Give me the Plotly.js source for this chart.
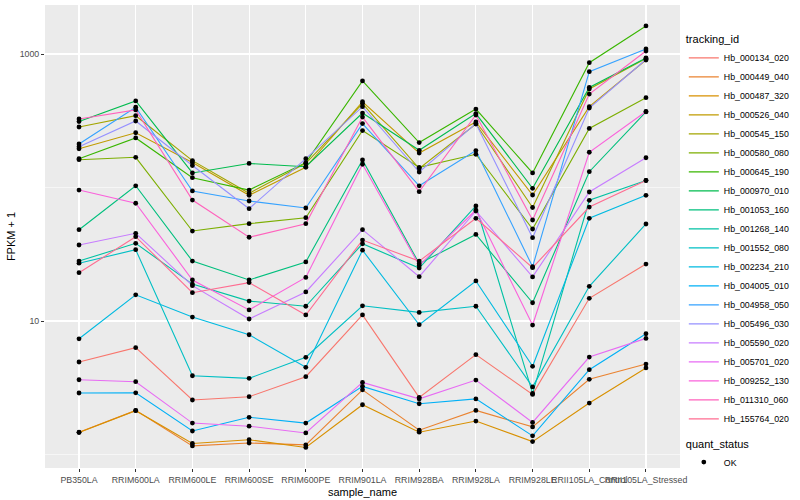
<!DOCTYPE html>
<html>
<head>
<meta charset="utf-8">
<script src="https://cdn.plot.ly/plotly-3.0.1.min.js"></script>
<style>html,body{margin:0;padding:0;background:#fff;}#chart{width:800px;height:500px;}</style>
</head>
<body>
<div id="chart"></div>
<script>
// categories (x axis)
const samples = ["PB350LA","RRIM600LA","RRIM600LE","RRIM600SE","RRIM600PE","RRIM901LA","RRIM928BA","RRIM928LA","RRIM928LE","RRII105LA_Control","RRII105LA_Stressed"];

// tracking ids (legend order)
const trackingIds = ["Hb_000134_020","Hb_000449_040","Hb_000487_320","Hb_000526_040","Hb_000545_150","Hb_000580_080","Hb_000645_190","Hb_000970_010","Hb_001053_160","Hb_001268_140","Hb_001552_080","Hb_002234_210","Hb_004005_010","Hb_004958_050","Hb_005496_030","Hb_005590_020","Hb_005701_020","Hb_009252_130","Hb_011310_060","Hb_155764_020"];

// FPKM + 1 values per tracking id, one per sample
const Hb_000134_020 = [4.93, 6.31, 2.56, 2.71, 3.83, 11.1, 2.68, 5.60, 2.82, 14.8, 26.7];
const Hb_000449_040 = [1.47, 2.14, 1.16, 1.22, 1.18, 3.05, 1.52, 2.14, 1.61, 3.66, 4.76];
const Hb_000487_320 = [1.46, 2.13, 1.21, 1.29, 1.13, 2.36, 1.47, 1.78, 1.25, 2.43, 4.45];
const Hb_000526_040 = [195, 257, 154, 87.4, 141.6, 439, 181, 310, 87.9, 403, 902];
const Hb_000545_150 = [284, 345, 159, 90.5, 151.8, 425, 138.8, 299, 70.8, 547, 925];
const Hb_000580_080 = [161.5, 168.3, 47.2, 53.6, 59.4, 267, 141.6, 177.4, 48.9, 277, 471];
const Hb_000645_190 = [164.4, 235, 118.4, 95.7, 153.5, 628, 217, 387, 128.5, 861, 1622];
const Hb_000970_010 = [312, 445, 128.5, 151.4, 143.2, 361, 190, 358, 98.6, 561, 933];
const Hb_001053_160 = [48.3, 103, 28.1, 20.3, 27.7, 160.7, 26.9, 44.5, 13.7, 131.3, 368];
const Hb_001268_140 = [28.1, 38.2, 18.9, 14.1, 12.9, 37.9, 24.9, 72.7, 2.87, 80.2, 112.8];
const Hb_001552_080 = [27.1, 34.2, 3.89, 3.72, 5.35, 13.0, 11.6, 12.9, 3.21, 18.2, 53.3];
const Hb_002234_210 = [7.36, 15.7, 10.7, 7.89, 4.50, 33.9, 9.38, 19.95, 4.58, 58.8, 87.4];
const Hb_004005_010 = [2.89, 2.90, 1.50, 1.90, 1.72, 3.24, 2.40, 2.61, 1.38, 4.32, 8.03];
const Hb_004958_050 = [212, 399, 94.2, 79.2, 70.2, 301, 103, 189, 25.5, 737, 1090];
const Hb_005496_030 = [202, 315, 146.2, 69.4, 164.4, 403, 130.6, 301, 42.1, 394, 910];
const Hb_005590_020 = [37.1, 45.4, 18.4, 10.35, 16.5, 48.3, 21.5, 66.7, 21.4, 92.5, 167];
const Hb_005701_020 = [3.63, 3.51, 1.72, 1.63, 1.45, 3.47, 2.61, 3.61, 1.74, 5.37, 7.41];
const Hb_009252_130 = [95.7, 76.2, 20.3, 12.1, 21.2, 149.3, 26.1, 67.8, 9.33, 183.6, 371];
const Hb_011310_060 = [326, 381, 80.5, 42.4, 53.6, 337, 93.1, 349, 57.1, 501, 1052];
const Hb_155764_020 = [23.0, 42.8, 16.3, 19.4, 11.1, 40.4, 28.1, 58.8, 25.1, 71.4, 112.8];

const seriesValues = [Hb_000134_020, Hb_000449_040, Hb_000487_320, Hb_000526_040, Hb_000545_150, Hb_000580_080, Hb_000645_190, Hb_000970_010, Hb_001053_160, Hb_001268_140, Hb_001552_080, Hb_002234_210, Hb_004005_010, Hb_004958_050, Hb_005496_030, Hb_005590_020, Hb_005701_020, Hb_009252_130, Hb_011310_060, Hb_155764_020];

const quantStatus = ["OK"];

// ggplot2 default hue palette for 20 groups
const colors = ["#F8766D","#EA8331","#D89000","#C09B00","#A3A500","#7CAE00","#39B600","#00BB4E","#00BF7D","#00C1A3","#00BFC4","#00BAE0","#00B0F6","#35A2FF","#9590FF","#C77CFF","#E76BF3","#FA62DB","#FF62BC","#FF6C91"];

const font = "Liberation Sans, Arial, Helvetica, sans-serif";

const traces = trackingIds.map((id, i) => ({
  type: "scatter",
  mode: "lines",
  x: samples,
  y: seriesValues[i],
  name: id,
  line: {color: colors[i], width: 1.1},
  legend: "legend",
  hoverinfo: "x+y+name"
}));

// points (quant_status = OK) drawn on top
const ptsX = [], ptsY = [];
seriesValues.forEach(vals => vals.forEach((v, j) => { ptsX.push(samples[j]); ptsY.push(v); }));
traces.push({
  type: "scatter",
  mode: "markers",
  x: ptsX,
  y: ptsY,
  name: quantStatus[0],
  marker: {color: "#000000", size: 4.8, symbol: "circle", line: {width: 0}},
  legend: "legend2"
});

const layout = {
  width: 800,
  height: 500,
  margin: {l: 45, r: 116, t: 5, b: 32, pad: 0},
  paper_bgcolor: "#FFFFFF",
  plot_bgcolor: "#EBEBEB",
  font: {family: font, color: "#000000"},
  showlegend: true,
  xaxis: {
    type: "category",
    categoryorder: "array",
    categoryarray: samples,
    range: [-0.6, 10.6],
    showgrid: true,
    gridcolor: "#FFFFFF",
    gridwidth: 1.1,
    zeroline: false,
    showline: false,
    ticks: "outside",
    ticklen: 3,
    tickwidth: 1,
    tickcolor: "#333333",
    tickangle: 0,
    tickfont: {family: font, size: 8.8, color: "#4D4D4D"},
    title: {text: "sample_name", font: {family: font, size: 11, color: "#000000"}, standoff: 4},
    automargin: false,
    fixedrange: true
  },
  yaxis: {
    type: "log",
    range: [-0.101, 3.367],
    tickmode: "array",
    tickvals: [10, 1000],
    ticktext: ["10", "1000"],
    showgrid: true,
    gridcolor: "#FFFFFF",
    gridwidth: 1.1,
    minor: {tickmode: "array", tickvals: [1, 100], showgrid: true, gridcolor: "#FFFFFF", gridwidth: 0.55, ticks: ""},
    zeroline: false,
    showline: false,
    ticks: "outside",
    ticklen: 3,
    tickwidth: 1,
    tickcolor: "#333333",
    tickfont: {family: font, size: 8.8, color: "#4D4D4D"},
    title: {text: "FPKM + 1", font: {family: font, size: 11, color: "#000000"}, standoff: 1},
    automargin: false,
    fixedrange: true
  },
  legend: {
    x: 1.006, xanchor: "left",
    y: 0.948, yanchor: "top",
    bgcolor: "rgba(0,0,0,0)",
    borderwidth: 0,
    title: {text: "tracking_id", font: {family: font, size: 11, color: "#000000"}},
    font: {family: font, size: 8.8, color: "#000000"},
    itemwidth: 30,
    tracegroupgap: 0
  },
  legend2: {
    x: 1.006, xanchor: "left",
    y: 0.075, yanchor: "top",
    bgcolor: "rgba(0,0,0,0)",
    borderwidth: 0,
    title: {text: "quant_status", font: {family: font, size: 11, color: "#000000"}},
    font: {family: font, size: 8.8, color: "#000000"},
    itemwidth: 30
  }
};

Plotly.newPlot("chart", traces, layout, {displayModeBar: false, staticPlot: true});
</script>
</body>
</html>
